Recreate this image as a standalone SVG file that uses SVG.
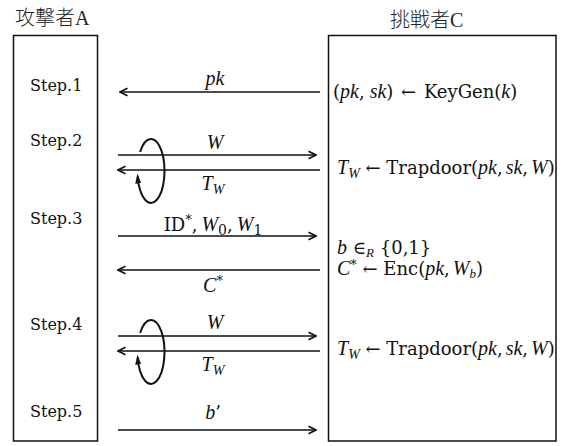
<svg xmlns="http://www.w3.org/2000/svg" width="576" height="446" viewBox="0 0 576 446">
<style>
.box{fill:#fff;stroke:#111;stroke-width:1.5}
.ttl{font-family:'Liberation Serif','Noto Sans CJK JP',serif;font-size:20px;fill:#222;font-weight:300}
.step{font-family:'DejaVu Serif',serif;font-size:16px;fill:#111}
.m{font-family:'DejaVu Serif',serif;font-size:18px;fill:#111}
.i{font-family:'Liberation Serif',serif;font-style:italic;font-size:20px}
.s{font-size:14px}
.ss{font-size:13px}
.ln{stroke:#111;stroke-width:1.3;fill:none}
.loop{stroke:#111;stroke-width:2;fill:none}
</style>
<defs>
<marker id="ah" viewBox="0 0 10 10" refX="9" refY="5" markerWidth="10" markerHeight="10" markerUnits="userSpaceOnUse" orient="auto"><path d="M1.5,1.2 L9,5 L1.5,8.8" fill="none" stroke="#111" stroke-width="1.6"/></marker>
<marker id="lh" viewBox="0 0 10 6" refX="7" refY="3" markerWidth="10" markerHeight="6" markerUnits="userSpaceOnUse" orient="auto"><path d="M0,0 L10,3 L0,6 Z" fill="#111"/></marker>
</defs>
<text class="ttl" x="15" y="25">攻撃者A</text>
<text class="ttl" x="390" y="27">挑戦者C</text>
<g id="attacker">
<rect class="box" x="13.5" y="35.5" width="84" height="405.5"/>
<text class="step" x="30" y="91">Step.1</text>
<text class="step" x="30" y="146">Step.2</text>
<text class="step" x="30" y="224">Step.3</text>
<text class="step" x="30" y="330">Step.4</text>
<text class="step" x="30" y="417">Step.5</text>
</g>
<g id="challenger">
<rect class="box" x="328.5" y="35.5" width="227.5" height="405.5"/>
<text class="m" x="333" y="98">(<tspan class="i">pk</tspan>,<tspan class="i" dx="5">sk</tspan>)<tspan dx="2"> ← </tspan><tspan dx="2">KeyGen(</tspan><tspan class="i">k</tspan>)</text>
<text class="m" x="337" y="174"><tspan class="i">T</tspan><tspan class="i s" dy="4">W</tspan><tspan dy="-4"> ← Trapdoor(</tspan><tspan class="i">pk</tspan>,<tspan class="i" dx="3">sk</tspan>,<tspan class="i" dx="3">W</tspan>)</text>
<text class="m" x="337" y="254"><tspan class="i">b</tspan> ∈<tspan class="i ss" dy="3">R</tspan><tspan dy="-3"> {0,1}</tspan></text>
<text class="m" x="337" y="275"><tspan class="i">C</tspan><tspan class="ss" dy="-6">*</tspan><tspan dy="6"> ← Enc(</tspan><tspan class="i">pk</tspan>,<tspan class="i" dx="3">W</tspan><tspan class="i ss" dy="3">b</tspan><tspan dy="-3">)</tspan></text>
<text class="m" x="337" y="355"><tspan class="i">T</tspan><tspan class="i s" dy="4">W</tspan><tspan dy="-4"> ← Trapdoor(</tspan><tspan class="i">pk</tspan>,<tspan class="i" dx="3">sk</tspan>,<tspan class="i" dx="3">W</tspan>)</text>
</g>
<g id="connectors">
<line class="ln" x1="320" y1="92" x2="120" y2="92" marker-end="url(#ah)"/>
<line class="ln" x1="118" y1="155" x2="316" y2="155" marker-end="url(#ah)"/>
<line class="ln" x1="320" y1="170" x2="118" y2="170" marker-end="url(#ah)"/>
<line class="ln" x1="118" y1="236" x2="316" y2="236" marker-end="url(#ah)"/>
<line class="ln" x1="320" y1="270" x2="118" y2="270" marker-end="url(#ah)"/>
<line class="ln" x1="118" y1="336" x2="316" y2="336" marker-end="url(#ah)"/>
<line class="ln" x1="320" y1="351" x2="118" y2="351" marker-end="url(#ah)"/>
<line class="ln" x1="118" y1="430" x2="316" y2="430" marker-end="url(#ah)"/>
<path class="loop" d="M140.1,152 A13.5,32 0 1,1 137.7,176.6" marker-end="url(#lh)"/>
<path class="loop" d="M140.1,333 A13.5,32 0 1,1 137.7,357.6" marker-end="url(#lh)"/>
</g>
<g id="labels" class="m" text-anchor="middle">
<text x="215" y="85"><tspan class="i">pk</tspan></text>
<text x="215" y="149"><tspan class="i">W</tspan></text>
<text x="213" y="190"><tspan class="i">T</tspan><tspan class="i s" dy="4">W</tspan></text>
<text x="213" y="231">ID<tspan class="ss" dy="-7">*</tspan><tspan dy="7">,</tspan><tspan class="i" dx="4">W</tspan><tspan class="s" dy="4">0</tspan><tspan dy="-4">,</tspan><tspan class="i" dx="4">W</tspan><tspan class="s" dy="4">1</tspan></text>
<text x="213" y="292"><tspan class="i">C</tspan><tspan class="ss" dy="-7">*</tspan></text>
<text x="215" y="329"><tspan class="i">W</tspan></text>
<text x="213" y="371"><tspan class="i">T</tspan><tspan class="i s" dy="4">W</tspan></text>
<text x="213" y="419"><tspan class="i">b</tspan>’</text>
</g>
</svg>
